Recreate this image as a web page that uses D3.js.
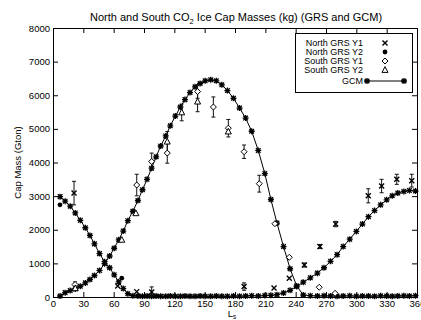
<!DOCTYPE html>
<html><head><meta charset="utf-8">
<script src="https://cdn.jsdelivr.net/npm/d3@7"></script>
<style>body{margin:0;background:#fff} svg{display:block} text{font-family:"Liberation Sans",Arial,sans-serif;fill:#000}</style>
</head><body><svg id="c" width="421" height="320"></svg>
<script>
// ---- data ----
const xTicks = [0,30,60,90,120,150,180,210,240,270,300,330,360];
const yTicks = [0,1000,2000,3000,4000,5000,6000,7000,8000];
const gcmLs = [7,12,17,22,27,32,36.5,41,46,51,56,60.5,65,69.5,74,79,84,88.5,93,97.5,102,106.5,111.5,116,121,126,130.5,135.5,140.5,145.5,150.5,156,161.5,167,172.5,178.5,184.5,190.5,196.5,203,209.5,215.5,221.5,228,234.5,241,247.5,254.5,261.5,268,274.5,281,287,293.5,300,306,312,318,324,330,335.5,341,347,352.5,358.5];
const gcmNorth = [2985,2850,2700,2500,2280,2060,1830,1580,1290,1050,870,660,450,250,100,40,30,25,30,20,30,25,20,30,25,20,30,25,20,30,25,20,30,25,20,30,25,30,40,30,45,50,70,120,200,310,440,570,710,870,1060,1260,1500,1720,1950,2170,2390,2570,2740,2890,3010,3090,3140,3170,3150];
const gcmSouth = [30,130,190,240,320,420,520,640,790,990,1220,1450,1700,1960,2270,2550,2870,3190,3500,3830,4170,4490,4790,5090,5380,5650,5870,6080,6250,6350,6430,6460,6430,6310,6140,5910,5620,5320,4930,4360,3670,2900,2200,1500,840,330,60,40,30,35,30,25,30,35,25,30,30,25,35,30,25,30,35,30,40];
// [Ls, mass, error]
const northY1 = [[20.8,3090,350],[64,330,0],[82.8,160,0],[97.6,150,150],[189,310,110],[218.6,270,0],[233.7,560,0],[248.6,950,60],[264,1500,60],[279.6,2170,80],[311.8,3010,210],[325,3300,200],[340,3500,150],[354.8,3460,190]];
const northY2 = [[6.9,2740,0],[68,560,0]];
const southY1 = [[21.8,370,80],[82.8,3330,320],[97.6,4030,250],[113,4280,300],[143,6110,200],[158.6,5650,300],[173.4,5020,260],[189,4320,200],[204,3370,250],[219.5,2180,0],[233.7,1180,0],[263.3,290,0],[279,110,0]];
const southY2 = [[22,260,0],[68,1700,0],[82,2490,0],[113,4620,300],[127.3,5490,250],[143,5810,300],[173.4,4920,0]];
const legendLabels = ["North GRS Y1","North GRS Y2","South GRS Y1","South GRS Y2","GCM"];

// ---- drawing ----
const svg = d3.select("#c");
const L=53,R=417,T=28,B=297;
const x = d3.scaleLinear().domain([0,360]).range([L,R]);
const y = d3.scaleLinear().domain([0,8000]).range([B,T]);

const symCross = "M-2.5,-2.5L2.5,2.5M-2.5,2.5L2.5,-2.5";
const symAst = "M-3,0H3M0,-3V3M-2.3,-2.3L2.3,2.3M-2.3,2.3L2.3,-2.3";
const symDia = "M0,-3L3,0L0,3L-3,0Z";
const symTri = "M0,-3.3L3,2.4L-3,2.4Z";

// title
const title = svg.append("text").attr("x",236).attr("y",21).attr("text-anchor","middle").style("font-size","11px");
title.append("tspan").text("North and South CO");
title.append("tspan").attr("dy",3).style("font-size","7.5px").text("2");
title.append("tspan").attr("dy",-3).text(" Ice Cap Masses (kg) (GRS and GCM)");

// axes
const gx = svg.append("g").attr("transform",`translate(0,${B})`)
  .call(d3.axisBottom(x).tickValues(xTicks).tickSizeInner(-5).tickSizeOuter(0).tickPadding(3).tickFormat(d3.format("d")));
const gxt = svg.append("g").attr("transform",`translate(0,${T})`)
  .call(d3.axisTop(x).tickValues(xTicks).tickSizeInner(-5).tickSizeOuter(0).tickFormat(""));
const gy = svg.append("g").attr("transform",`translate(${L},0)`)
  .call(d3.axisLeft(y).tickValues(yTicks).tickSizeInner(-5).tickSizeOuter(0).tickPadding(3).tickFormat(d3.format("d")));
const gyr = svg.append("g").attr("transform",`translate(${R},0)`)
  .call(d3.axisRight(y).tickValues(yTicks).tickSizeInner(-5).tickSizeOuter(0).tickFormat(""));
[gx,gxt,gy,gyr].forEach(g=>{g.select(".domain").remove(); g.selectAll("line").attr("stroke","#000"); g.selectAll("text").style("font-size","9.5px").attr("fill","#000").style("font-family","'Liberation Sans',Arial,sans-serif");});

svg.append("rect").attr("x",L).attr("y",T).attr("width",R-L).attr("height",B-T).attr("fill","none").attr("stroke","#000").attr("shape-rendering","crispEdges");

// axis labels
svg.append("text").attr("transform",`translate(21,${(T+B)/2}) rotate(-90)`).attr("text-anchor","middle").style("font-size","9.5px").text("Cap Mass (Gton)");
const xl = svg.append("text").attr("x",232).attr("y",317).attr("text-anchor","middle").style("font-size","9.5px");
xl.append("tspan").text("L");
xl.append("tspan").attr("dy",2).style("font-size","6.5px").text("s");

// GCM
const gcmN = gcmLs.map((l,i)=>[l,gcmNorth[i]]);
const gcmS = gcmLs.map((l,i)=>[l,gcmSouth[i]]);
const line = d3.line().x(d=>x(d[0])).y(d=>y(d[1]));
[gcmN,gcmS].forEach(s=>{
  svg.append("path").attr("d",line(s)).attr("fill","none").attr("stroke","#000").attr("stroke-width",1);
  svg.append("g").selectAll("path").data(s).join("path")
    .attr("transform",d=>`translate(${x(d[0])},${y(d[1])})`).attr("d",symAst)
    .attr("stroke","#000").attr("stroke-width",1.3).attr("fill","none");
});

// GRS with error bars
function errbars(data){
  const g = svg.append("g").attr("stroke","#111").attr("stroke-width",1);
  data.filter(d=>d[2]>0).forEach(d=>{
    const cx=x(d[0]), y1=y(d[1]-d[2]), y2=y(d[1]+d[2]);
    g.append("line").attr("x1",cx).attr("x2",cx).attr("y1",y1).attr("y2",y2);
    g.append("line").attr("x1",cx-2).attr("x2",cx+2).attr("y1",y1).attr("y2",y1);
    g.append("line").attr("x1",cx-2).attr("x2",cx+2).attr("y1",y2).attr("y2",y2);
  });
}
[northY1,northY2,southY1,southY2].forEach(errbars);

svg.append("g").selectAll("path").data(northY1).join("path")
  .attr("transform",d=>`translate(${x(d[0])},${y(d[1])})`).attr("d",symCross).attr("stroke","#000").attr("stroke-width",1.4).attr("fill","none");
svg.append("g").selectAll("circle").data(northY2).join("circle")
  .attr("cx",d=>x(d[0])).attr("cy",d=>y(d[1])).attr("r",2.4).attr("fill","#000");
svg.append("g").selectAll("path").data(southY1).join("path")
  .attr("transform",d=>`translate(${x(d[0])},${y(d[1])})`).attr("d",symDia).attr("stroke","#000").attr("stroke-width",1).attr("fill","#fff");
svg.append("g").selectAll("path").data(southY2).join("path")
  .attr("transform",d=>`translate(${x(d[0])},${y(d[1])})`).attr("d",symTri).attr("stroke","#000").attr("stroke-width",1).attr("fill","#fff");

// legend
const lg = svg.append("g");
lg.append("rect").attr("x",295.5).attr("y",33.5).attr("width",117).attr("height",59).attr("fill","#fff").attr("stroke","#000");
const rows=[46,55,64,73,84];
legendLabels.forEach((t,i)=>{
  lg.append("text").attr("x",363).attr("y",rows[i]).attr("text-anchor","end").style("font-size","9px").text(t);
});
const my = rows.map(r=>r-3);
lg.append("path").attr("transform",`translate(385,${my[0]})`).attr("d",symCross).attr("stroke","#000").attr("stroke-width",1.4);
lg.append("circle").attr("cx",385).attr("cy",my[1]).attr("r",2.4).attr("fill","#000");
lg.append("path").attr("transform",`translate(385,${my[2]})`).attr("d",symDia).attr("stroke","#000").attr("fill","#fff");
lg.append("path").attr("transform",`translate(385,${my[3]})`).attr("d",symTri).attr("stroke","#000").attr("fill","#fff");
lg.append("line").attr("x1",367).attr("x2",404).attr("y1",my[4]).attr("y2",my[4]).attr("stroke","#000");
[367,404].forEach(px=>lg.append("path").attr("transform",`translate(${px},${my[4]})`).attr("d",symAst).attr("stroke","#000").attr("stroke-width",1.3).attr("fill","none"));
</script></body></html>
